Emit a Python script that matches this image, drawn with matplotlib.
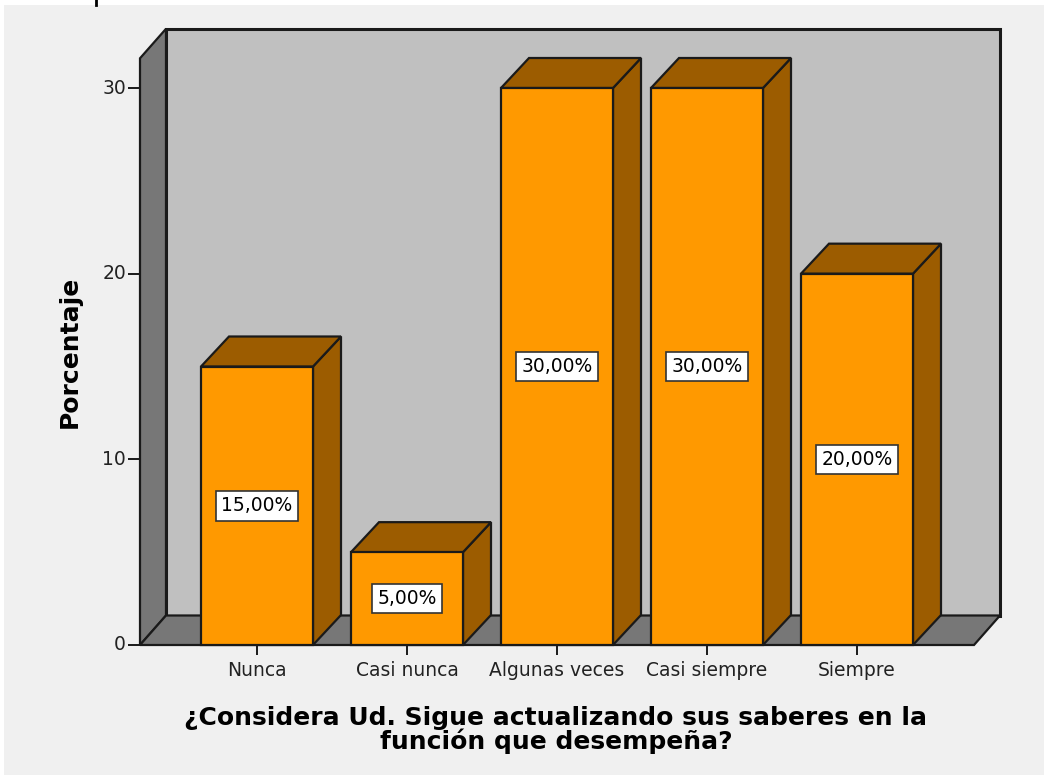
import matplotlib
matplotlib.use("Agg")
import matplotlib.pyplot as plt
from matplotlib.patches import Polygon, Rectangle
from matplotlib.lines import Line2D

categories = ["Nunca", "Casi nunca", "Algunas veces", "Casi siempre", "Siempre"]
values = [15.0, 5.0, 30.0, 30.0, 20.0]
value_labels = ["15,00%", "5,00%", "30,00%", "30,00%", "20,00%"]
yticks = [0, 10, 20, 30]
ylabel = "Porcentaje"
xlabel = "¿Considera Ud. Sigue actualizando sus saberes en la\nfunción que desempeña?"

W, H = 1044, 775
fig = plt.figure(figsize=(W / 100, H / 100), dpi=100)
fig.patch.set_facecolor("white")
fig.patches.append(Rectangle((4 / W, 0), 1, (H - 5) / H, transform=fig.transFigure,
                             facecolor="#f0f0f0", edgecolor="none", zorder=-5))
fig.lines.append(Line2D([96 / W, 96 / W], [(H - 5) / H, 1], transform=fig.transFigure,
                        color="black", lw=2, zorder=-4))

# axes mapping: x index -> pixel 257 + 150*i ; y value -> pixel(from top) 645 - 557/30*v
px_per_x = 150.0
px_per_y = 557.0 / 30.0
x0_px = 257.0
y0_px_bottom = H - 645.0
ax = fig.add_axes([0, 0, 1, 1])
ax.set_xlim((0 - x0_px) / px_per_x, (W - x0_px) / px_per_x)
ax.set_ylim((0 - y0_px_bottom) / px_per_y, (H - y0_px_bottom) / px_per_y)
ax.axis("off")
ax.patch.set_alpha(0)

bar_w = 112 / px_per_x
ddx = 28 / px_per_x
ddy = 30 / px_per_y
wdx = 26 / px_per_x
wdy = 29.5 / px_per_y
left = -117 / px_per_x      # front-left of frame
right = 717 / px_per_x      # front-right of floor
ytop = 31.6
lw = 1.6
ec = "#1a1a1a"

# back wall
ax.add_patch(Polygon([(left + wdx, wdy), (right + wdx, wdy), (right + wdx, ytop + wdy),
                      (left + wdx, ytop + wdy)], closed=True, facecolor="#c0c0c0",
                     edgecolor=ec, lw=lw + 0.6, zorder=1))
# left wall
ax.add_patch(Polygon([(left, 0), (left + wdx, wdy), (left + wdx, ytop + wdy), (left, ytop)],
                     closed=True, facecolor="#777777", edgecolor=ec, lw=lw, zorder=2))
# floor
ax.add_patch(Polygon([(left, 0), (right, 0), (right + wdx, wdy), (left + wdx, wdy)],
                     closed=True, facecolor="#777777", edgecolor=ec, lw=lw, zorder=2))

front_c = "#ff9900"
dark_c = "#9c5c00"
for i, (v, lab) in enumerate(zip(values, value_labels)):
    xl = i - bar_w / 2
    xr = i + bar_w / 2
    z = 3 + i
    ax.add_patch(Polygon([(xr, 0), (xr + ddx, ddy), (xr + ddx, v + ddy), (xr, v)], closed=True,
                         facecolor=dark_c, edgecolor=ec, lw=lw, zorder=z))
    ax.add_patch(Polygon([(xl, v), (xr, v), (xr + ddx, v + ddy), (xl + ddx, v + ddy)], closed=True,
                         facecolor=dark_c, edgecolor=ec, lw=lw, zorder=z))
    ax.add_patch(Rectangle((xl, 0), bar_w, v, facecolor=front_c, edgecolor=ec, lw=lw, zorder=z + 0.5))
    ax.text(i, v / 2, lab, ha="center", va="center", fontsize=13.5, color="black",
            family="DejaVu Sans", zorder=20,
            bbox=dict(boxstyle="square,pad=0.28", facecolor="white", edgecolor="#333333", lw=1.2))

# y axis ticks and labels
tick_len_x = 12 / px_per_x
for t in yticks:
    ax.plot([left - tick_len_x, left], [t, t], color=ec, lw=1.4, zorder=10, solid_capstyle="butt")
    ax.text(left - tick_len_x - 2 / px_per_x, t, str(t), ha="right", va="center",
            fontsize=13.5, color="#222222")
# x ticks and labels
tick_len_y = 10 / px_per_y
for i, c in enumerate(categories):
    ax.plot([i, i], [0, -tick_len_y], color=ec, lw=1.4, zorder=10, solid_capstyle="butt")
    ax.text(i, -25 / px_per_y, c, ha="center", va="center", fontsize=13.5, color="#222222")

ax.text(-187 / px_per_x, (645 - 352) / px_per_y, ylabel, rotation=90, ha="center", va="center",
        fontsize=18, fontweight="bold", family="DejaVu Sans", color="black")
ax.text(299 / px_per_x, -85 / px_per_y, xlabel, ha="center", va="center", fontsize=18,
        fontweight="bold", family="DejaVu Sans", color="black", linespacing=0.95)

fig.savefig("out.png", dpi=100, facecolor=fig.get_facecolor())
